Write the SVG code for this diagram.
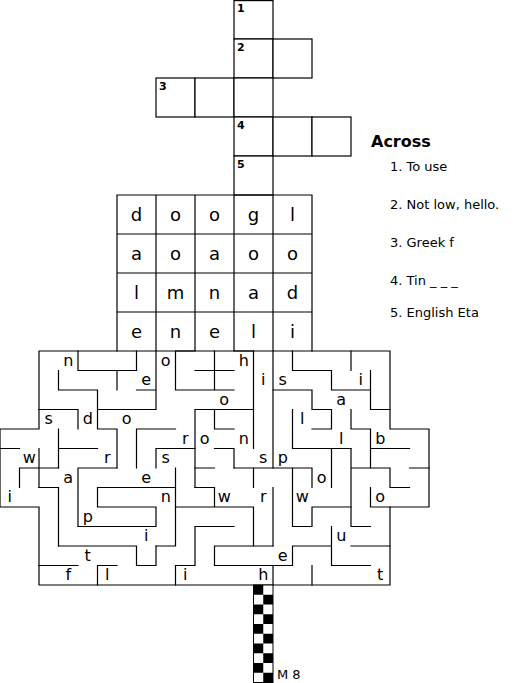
<svg xmlns="http://www.w3.org/2000/svg" width="527" height="683" viewBox="0 0 527 683">
<style>
.cell{fill:#fff;stroke:#000;stroke-width:1.2}
.wall{fill:none;stroke:#000;stroke-width:1.2;stroke-linecap:square}
.num{font-family:"DejaVu Sans",Verdana,sans-serif;font-size:11px;font-weight:bold;fill:#000}
.big{font-family:"DejaVu Sans",Verdana,sans-serif;font-size:18px;fill:#000;text-anchor:middle}
.ml{font-family:"DejaVu Sans",Verdana,sans-serif;font-size:16px;fill:#000;text-anchor:middle}
.clue{font-family:"DejaVu Sans",Verdana,sans-serif;font-size:13px;fill:#000}
.head{font-family:"DejaVu Sans",Verdana,sans-serif;font-size:16px;font-weight:bold;fill:#000}
</style>
<rect width="527" height="683" fill="#fff"/>
<g id="crossword">
<rect class="cell" x="234" y="0.6" width="39" height="38.4"/>
<rect class="cell" x="234" y="39" width="39" height="39"/>
<rect class="cell" x="273" y="39" width="39" height="39"/>
<rect class="cell" x="156" y="78" width="39" height="39"/>
<rect class="cell" x="195" y="78" width="39" height="39"/>
<rect class="cell" x="234" y="78" width="39" height="39"/>
<rect class="cell" x="234" y="117" width="39" height="39"/>
<rect class="cell" x="273" y="117" width="39" height="39"/>
<rect class="cell" x="312" y="117" width="39" height="39"/>
<rect class="cell" x="234" y="156" width="39" height="39"/>
<path class="wall" d="M117,195 H312 V351 H117 Z M117,234 H312 M117,273 H312 M117,312 H312 M156,195 V351 M195,195 V351 M234,195 V351 M273,195 V351"/>
<text class="num" x="237" y="12">1</text>
<text class="num" x="237" y="51">2</text>
<text class="num" x="159" y="90">3</text>
<text class="num" x="237" y="129">4</text>
<text class="num" x="237" y="168">5</text>
<text class="big" x="136.5" y="221">d</text>
<text class="big" x="175.5" y="221">o</text>
<text class="big" x="214.5" y="221">o</text>
<text class="big" x="253.5" y="221">g</text>
<text class="big" x="292.5" y="221">l</text>
<text class="big" x="136.5" y="260">a</text>
<text class="big" x="175.5" y="260">o</text>
<text class="big" x="214.5" y="260">a</text>
<text class="big" x="253.5" y="260">o</text>
<text class="big" x="292.5" y="260">o</text>
<text class="big" x="136.5" y="299">l</text>
<text class="big" x="175.5" y="299">m</text>
<text class="big" x="214.5" y="299">n</text>
<text class="big" x="253.5" y="299">a</text>
<text class="big" x="292.5" y="299">d</text>
<text class="big" x="136.5" y="338">e</text>
<text class="big" x="175.5" y="338">n</text>
<text class="big" x="214.5" y="338">e</text>
<text class="big" x="253.5" y="338">l</text>
<text class="big" x="292.5" y="338">i</text>
</g>
<g id="clues">
<text class="head" x="371" y="147">Across</text>
<text class="clue" x="390" y="171">1. To use</text>
<text class="clue" x="390" y="209">2. Not low, hello.</text>
<text class="clue" x="390" y="247">3. Greek f</text>
<text class="clue" x="390" y="285">4. Tin _ _ _</text>
<text class="clue" x="390" y="317">5. English Eta</text>
</g>
<g id="maze-walls">
<path class="wall" d="M117,351 H39 V429 H0 V507 H39 V585 H390 V507 H429 V429 H390 V351 H312"/>
<path class="wall" d="M78,351 V370.5 H136.5 V351"/>
<path class="wall" d="M58.5,370.5 V390 H97.5 V429 H117 V468"/>
<path class="wall" d="M117,370.5 V390 M136.5,390 H156 M156,351 V409.5 M97.5,409.5 H156"/>
<path class="wall" d="M39,409.5 H78 V429"/>
<path class="wall" d="M58.5,429 V468 M58.5,448.5 H97.5 M0,448.5 H19.5 M39,448.5 V487.5"/>
<path class="wall" d="M19.5,487.5 V468 H58.5 M39,487.5 H58.5 M58.5,487.5 V546"/>
<path class="wall" d="M117,468 H78 V526.5"/>
<path class="wall" d="M175.5,429 H136.5 V468"/>
<path class="wall" d="M195,351 H175.5 V390 H234 M214.5,351 V390 M195,370.5 H234"/>
<path class="wall" d="M234,351 H253.5 V448.5"/>
<path class="wall" d="M253.5,409.5 H195 V487.5 M214.5,409.5 V429 H234 M214.5,448.5 H234 V468"/>
<path class="wall" d="M195,448.5 H156 V468"/>
<path class="wall" d="M273,351 V468"/>
<path class="wall" d="M292.5,351 V370.5 H331.5 V390 H370.5 M351,351 V370.5 M370.5,370.5 V409.5 H390"/>
<path class="wall" d="M273,390 H312 V409.5 H331.5 V429 H312"/>
<path class="wall" d="M292.5,409.5 V448.5 H351 M331.5,448.5 V487.5"/>
<path class="wall" d="M351,409.5 V429 H370.5 V468 M370.5,448.5 H409.5"/>
<path class="wall" d="M351,448.5 V526.5 H370.5 M351,468 H390 V487.5 H409.5 M409.5,468 H429 M370.5,487.5 V507 H390"/>
<path class="wall" d="M234,468 H312 V487.5 M292.5,468 V526.5 H312 V507 H351"/>
<path class="wall" d="M292.5,565.5 V546 H331.5 M331.5,526.5 V565.5 H370.5 M351,546 H390 M312,565.5 V585"/>
<path class="wall" d="M253.5,468 V487.5 M273,487.5 V546"/>
<path class="wall" d="M175.5,468 V546 H156 M97.5,487.5 H175.5 M97.5,487.5 V507 H156 V526.5 H78"/>
<path class="wall" d="M195,468 H214.5 M195,487.5 H214.5 V507 M175.5,507 H253.5 V546"/>
<path class="wall" d="M273,546 H214.5 V565.5 H292.5"/>
<path class="wall" d="M234,526.5 H195 V565.5 H175.5 V585 M273,565.5 V585"/>
<path class="wall" d="M58.5,546 H136.5 V565.5 H156 V546"/>
<path class="wall" d="M39,565.5 H78 M97.5,585 V565.5 H117"/>
</g>
<g id="maze-letters">
<text class="ml" x="68.25" y="365.5">n</text>
<text class="ml" x="146.25" y="385">e</text>
<text class="ml" x="165.75" y="365.5">o</text>
<text class="ml" x="243.75" y="365.5">h</text>
<text class="ml" x="263.25" y="385">i</text>
<text class="ml" x="282.75" y="385">s</text>
<text class="ml" x="360.75" y="385">i</text>
<text class="ml" x="224.25" y="404.5">o</text>
<text class="ml" x="341.25" y="404.5">a</text>
<text class="ml" x="48.75" y="424">s</text>
<text class="ml" x="87.75" y="424">d</text>
<text class="ml" x="126.75" y="424">o</text>
<text class="ml" x="302.25" y="424">l</text>
<text class="ml" x="185.25" y="443.5">r</text>
<text class="ml" x="204.75" y="443.5">o</text>
<text class="ml" x="243.75" y="443.5">n</text>
<text class="ml" x="341.25" y="443.5">l</text>
<text class="ml" x="380.25" y="443.5">b</text>
<text class="ml" x="29.25" y="463">w</text>
<text class="ml" x="107.25" y="463">r</text>
<text class="ml" x="165.75" y="463">s</text>
<text class="ml" x="263.25" y="463">s</text>
<text class="ml" x="282.75" y="463">p</text>
<text class="ml" x="68.25" y="482.5">a</text>
<text class="ml" x="146.25" y="482.5">e</text>
<text class="ml" x="321.75" y="482.5">o</text>
<text class="ml" x="9.75" y="502">i</text>
<text class="ml" x="165.75" y="502">n</text>
<text class="ml" x="224.25" y="502">w</text>
<text class="ml" x="263.25" y="502">r</text>
<text class="ml" x="302.25" y="502">w</text>
<text class="ml" x="380.25" y="502">o</text>
<text class="ml" x="87.75" y="521.5">p</text>
<text class="ml" x="146.25" y="541">i</text>
<text class="ml" x="341.25" y="541">u</text>
<text class="ml" x="87.75" y="560.5">t</text>
<text class="ml" x="282.75" y="560.5">e</text>
<text class="ml" x="68.25" y="580">f</text>
<text class="ml" x="107.25" y="580">l</text>
<text class="ml" x="185.25" y="580">i</text>
<text class="ml" x="263.25" y="580">h</text>
<text class="ml" x="380.25" y="580">t</text>
</g>
<g id="exit-strip">
<rect x="253.5" y="585" width="19.5" height="97.5" fill="#fff" stroke="#000" stroke-width="1"/>
<path fill="#000" d="M253.5,585h9.75v9.75h-9.75z M263.25,594.75h9.75v9.75h-9.75z M253.5,604.5h9.75v9.75h-9.75z M263.25,614.25h9.75v9.75h-9.75z M253.5,624h9.75v9.75h-9.75z M263.25,633.75h9.75v9.75h-9.75z M253.5,643.5h9.75v9.75h-9.75z M263.25,653.25h9.75v9.75h-9.75z M253.5,663h9.75v9.75h-9.75z M263.25,672.75h9.75v9.75h-9.75z"/>
<text class="clue" x="277" y="679">M 8</text>
</g>
</svg>
